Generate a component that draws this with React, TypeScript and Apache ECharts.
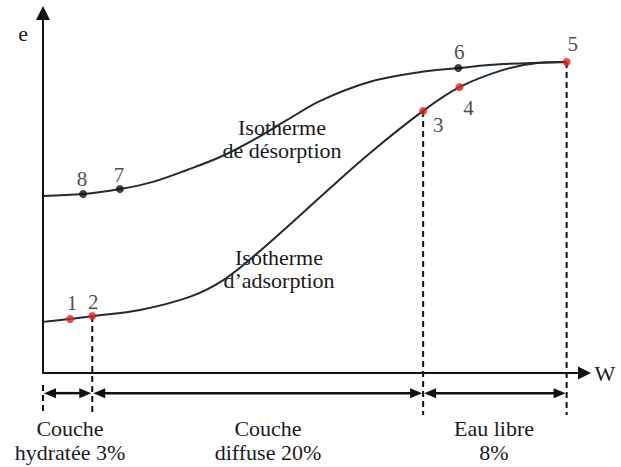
import React, { useEffect, useRef } from "react";
import * as echarts from "echarts";

// Desorption isotherm (upper curve)
const desorptionW = [0, 7.4, 14.2, 20.3, 26.6, 32.7, 38.8, 45.1, 51.2, 60.4, 69.7, 76.7, 85.0, 96.7];
const desorptionE = [49.2, 49.7, 51.1, 53.1, 56.4, 60.0, 64.7, 70.3, 75.6, 80.9, 83.6, 84.7, 85.8, 86.4];
// Adsorption isotherm (lower curve)
const adsorptionW = [0, 5.0, 9.1, 17.9, 27.2, 33.3, 39.6, 45.7, 51.2, 60.4, 70.2, 76.9, 85.0, 91.3, 96.7];
const adsorptionE = [14.2, 15.0, 15.8, 17.5, 21.2, 25.8, 33.3, 41.4, 48.9, 61.1, 72.8, 79.4, 84.2, 86.1, 86.4];

// Marked points
const redLabels = ["1", "2", "3", "4", "5"];
const redW = [5.0, 9.1, 70.2, 76.9, 96.7];
const redE = [15.0, 15.8, 72.8, 79.4, 86.4];
const blackLabels = ["6", "7", "8"];
const blackW = [76.7, 14.2, 7.4];
const blackE = [84.7, 51.1, 49.7];

// Zone boundaries (dashed lines) and arrows
const boundaryW = [0, 9.1, 70.2, 96.7];
const boundaryTopE = [-3.3, 15.8, 72.8, 86.4];
const boundaryBottomE = -11.7;
const arrowE = -5.6;

const zoneLabels = ["Couche\nhydratée 3%", "Couche\ndiffuse 20%", "Eau libre\n8%"];

const labelOffsets: Record<string, number[]> = {
  "1": [2, -16],
  "2": [1, -14],
  "3": [15, 14],
  "4": [9, 21],
  "5": [6, -18],
  "6": [1, -16],
  "7": [-1, -14],
  "8": [-1, -15],
};

const FONT = "Liberation Serif, Times New Roman, DejaVu Serif, serif";
const INK = "#1f2a33";
const TXT = "#1a1a1a";

export default function App() {
  const ref = useRef<HTMLDivElement>(null);

  useEffect(() => {
    if (!ref.current) return;
    const chart = echarts.init(ref.current, null, { renderer: "svg" });

    const zip = (a: number[], b: number[]) => a.map((v, i) => [v, b[i]]);

    const pointItems = (labels: string[], ws: number[], es: number[]) =>
      labels.map((l, i) => ({
        value: [ws[i], es[i]],
        name: l,
        label: {
          show: true,
          position: "inside",
          offset: labelOffsets[l],
          formatter: l,
          fontFamily: FONT,
          fontSize: 21,
          color: TXT,
        },
      }));

    const dashData = boundaryW.map((w, i) => [w, boundaryTopE[i], boundaryBottomE]);
    const arrowData = boundaryW.slice(0, -1).map((w, i) => [w, boundaryW[i + 1], arrowE]);

    const AL = 12; // arrowhead length
    const AW = 10; // arrowhead width

    const textStyle = (text: string, size: number, lh: number) => ({
      text,
      fontFamily: FONT,
      fontSize: size,
      fill: TXT,
      align: "center",
      verticalAlign: "middle",
      lineHeight: lh,
    });

    const option: any = {
      animation: false,
      textStyle: { fontFamily: FONT },
      grid: { left: 43, right: 36.5, top: 13, bottom: 94 },
      xAxis: {
        type: "value",
        min: 0,
        max: 100,
        name: "W",
        nameLocation: "end",
        nameGap: 10,
        nameTextStyle: { fontFamily: FONT, fontSize: 22, color: TXT },
        axisLine: {
          show: true,
          onZero: false,
          symbol: ["none", "triangle"],
          symbolSize: [13, 13],
          lineStyle: { color: "#111", width: 2 },
        },
        axisTick: { show: false },
        axisLabel: { show: false },
        splitLine: { show: false },
      },
      yAxis: {
        type: "value",
        min: 0,
        max: 100,
        axisLine: {
          show: true,
          onZero: false,
          symbol: ["none", "triangle"],
          symbolSize: [14, 14],
          lineStyle: { color: "#111", width: 2 },
        },
        axisTick: { show: false },
        axisLabel: { show: false },
        splitLine: { show: false },
      },
      graphic: [
        {
          type: "text",
          x: 23,
          y: 33,
          style: textStyle("e", 22, 22),
        },
        {
          type: "text",
          x: 282,
          y: 139,
          style: textStyle("Isotherme\nde désorption", 22, 23),
        },
        {
          type: "text",
          x: 279,
          y: 269,
          style: textStyle("Isotherme\nd\u2019adsorption", 22, 23),
        },
        ...[70, 268, 494].map((cx, i) => ({
          type: "text",
          x: cx,
          y: 440,
          style: textStyle(zoneLabels[i], 22, 24),
        })),
      ],
      series: [
        {
          type: "line",
          data: zip(desorptionW, desorptionE),
          smooth: 0.35,
          showSymbol: false,
          lineStyle: { color: INK, width: 2 },
          z: 2,
        },
        {
          type: "line",
          data: zip(adsorptionW, adsorptionE),
          smooth: 0.35,
          showSymbol: false,
          lineStyle: { color: INK, width: 2 },
          z: 2,
        },
        {
          type: "custom",
          data: dashData,
          clip: false,
          renderItem: (params: any, api: any) => {
            const top = api.coord([api.value(0), api.value(1)]);
            const bottom = api.coord([api.value(0), api.value(2)]);
            return {
              type: "line",
              shape: { x1: top[0], y1: top[1], x2: bottom[0], y2: bottom[1] },
              style: { stroke: "#111", lineWidth: 2, lineDash: [6, 4] },
            };
          },
          z: 1,
        },
        {
          type: "custom",
          data: arrowData,
          clip: false,
          renderItem: (params: any, api: any) => {
            const p1 = api.coord([api.value(0), api.value(2)]);
            const p2 = api.coord([api.value(1), api.value(2)]);
            const a = p1[0] + 1;
            const b = p2[0] - 1;
            const y = p1[1];
            return {
              type: "group",
              children: [
                {
                  type: "line",
                  shape: { x1: a + AL - 1, y1: y, x2: b - AL + 1, y2: y },
                  style: { stroke: "#111", lineWidth: 2.5 },
                },
                {
                  type: "polygon",
                  shape: { points: [[a, y], [a + AL, y - AW / 2], [a + AL, y + AW / 2]] },
                  style: { fill: "#111" },
                },
                {
                  type: "polygon",
                  shape: { points: [[b, y], [b - AL, y - AW / 2], [b - AL, y + AW / 2]] },
                  style: { fill: "#111" },
                },
              ],
            };
          },
          z: 1,
        },
        {
          type: "scatter",
          data: pointItems(redLabels, redW, redE),
          symbolSize: 8,
          itemStyle: { color: "#e0201e" },
          z: 5,
        },
        {
          type: "scatter",
          data: pointItems(blackLabels, blackW, blackE),
          symbolSize: 8,
          itemStyle: { color: "#111" },
          z: 5,
        },
      ],
    };

    chart.setOption(option);
    return () => chart.dispose();
  }, []);

  return <div ref={ref} style={{ width: 621, height: 467, position: "absolute", left: 0, top: 0 }} />;
}
